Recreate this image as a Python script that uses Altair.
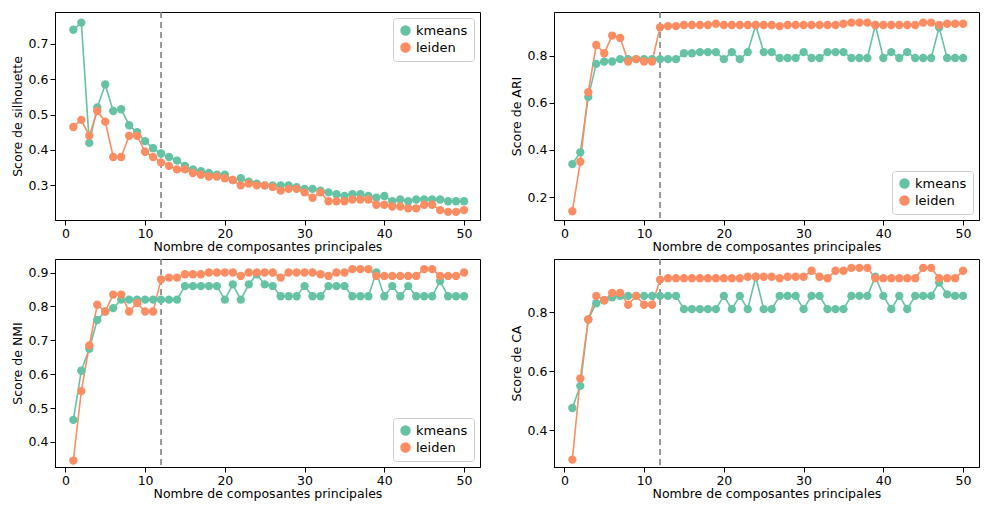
import altair as alt
import pandas as pd

n_pcs = list(range(1, 51))

sil_kmeans = [0.74, 0.76, 0.42, 0.52, 0.585, 0.51, 0.515, 0.47, 0.45, 0.425,
              0.405, 0.39, 0.38, 0.37, 0.355, 0.345, 0.34, 0.335, 0.33, 0.33,
              0.315, 0.32, 0.31, 0.305, 0.30, 0.30, 0.30, 0.30, 0.295, 0.29,
              0.29, 0.285, 0.28, 0.275, 0.27, 0.275, 0.275, 0.27, 0.265, 0.27,
              0.255, 0.26, 0.255, 0.26, 0.26, 0.26, 0.26, 0.255, 0.255, 0.255]
sil_leiden = [0.465, 0.485, 0.44, 0.51, 0.48, 0.38, 0.38, 0.44, 0.44, 0.395,
              0.38, 0.365, 0.355, 0.345, 0.345, 0.335, 0.33, 0.325, 0.325, 0.32,
              0.315, 0.30, 0.305, 0.30, 0.30, 0.295, 0.285, 0.29, 0.29, 0.28,
              0.265, 0.28, 0.255, 0.255, 0.255, 0.26, 0.26, 0.26, 0.245, 0.245,
              0.24, 0.24, 0.235, 0.235, 0.245, 0.245, 0.23, 0.225, 0.225, 0.23]

ari_kmeans = [0.34, 0.39, 0.625, 0.765, 0.775, 0.775, 0.785, 0.785, 0.785, 0.785,
              0.785, 0.785, 0.785, 0.785, 0.81, 0.81, 0.815, 0.815, 0.815, 0.785,
              0.815, 0.785, 0.815, 0.93, 0.815, 0.815, 0.79, 0.79, 0.79, 0.815,
              0.79, 0.79, 0.815, 0.815, 0.815, 0.79, 0.79, 0.79, 0.93, 0.79,
              0.815, 0.79, 0.815, 0.79, 0.79, 0.79, 0.92, 0.79, 0.79, 0.79]
ari_leiden = [0.14, 0.35, 0.645, 0.845, 0.81, 0.885, 0.875, 0.775, 0.785, 0.775,
              0.775, 0.92, 0.925, 0.925, 0.93, 0.93, 0.93, 0.93, 0.935, 0.93,
              0.93, 0.93, 0.93, 0.93, 0.93, 0.93, 0.925, 0.93, 0.93, 0.93,
              0.93, 0.93, 0.93, 0.93, 0.935, 0.94, 0.94, 0.94, 0.93, 0.93,
              0.93, 0.93, 0.93, 0.93, 0.94, 0.94, 0.93, 0.935, 0.935, 0.935]

nmi_kmeans = [0.465, 0.61, 0.675, 0.76, 0.785, 0.795, 0.82, 0.82, 0.82, 0.82,
              0.82, 0.82, 0.82, 0.82, 0.86, 0.86, 0.86, 0.86, 0.86, 0.82,
              0.865, 0.82, 0.865, 0.895, 0.865, 0.86, 0.83, 0.83, 0.83, 0.86,
              0.83, 0.83, 0.86, 0.86, 0.86, 0.83, 0.83, 0.83, 0.9, 0.83,
              0.86, 0.83, 0.86, 0.83, 0.83, 0.83, 0.875, 0.83, 0.83, 0.83]
nmi_leiden = [0.345, 0.55, 0.685, 0.805, 0.785, 0.835, 0.835, 0.785, 0.81, 0.785,
              0.785, 0.88, 0.885, 0.885, 0.895, 0.895, 0.895, 0.9, 0.9, 0.9,
              0.9, 0.89, 0.9, 0.9, 0.9, 0.9, 0.885, 0.9, 0.9, 0.9,
              0.9, 0.895, 0.89, 0.9, 0.9, 0.91, 0.91, 0.91, 0.89, 0.89,
              0.89, 0.89, 0.89, 0.89, 0.91, 0.91, 0.89, 0.89, 0.89, 0.9]

ca_kmeans = [0.475, 0.55, 0.775, 0.83, 0.84, 0.85, 0.855, 0.855, 0.855, 0.855,
             0.855, 0.855, 0.855, 0.855, 0.81, 0.81, 0.81, 0.81, 0.81, 0.855,
             0.81, 0.855, 0.81, 0.92, 0.81, 0.81, 0.855, 0.855, 0.855, 0.81,
             0.855, 0.855, 0.81, 0.81, 0.81, 0.855, 0.855, 0.855, 0.92, 0.855,
             0.81, 0.855, 0.81, 0.855, 0.855, 0.855, 0.9, 0.86, 0.855, 0.855]
ca_leiden = [0.30, 0.575, 0.775, 0.855, 0.84, 0.865, 0.865, 0.825, 0.855, 0.825,
             0.825, 0.91, 0.915, 0.915, 0.915, 0.915, 0.915, 0.915, 0.915, 0.915,
             0.915, 0.915, 0.92, 0.92, 0.92, 0.92, 0.915, 0.92, 0.92, 0.92,
             0.94, 0.92, 0.915, 0.94, 0.94, 0.95, 0.95, 0.95, 0.915, 0.915,
             0.915, 0.915, 0.915, 0.915, 0.95, 0.95, 0.915, 0.915, 0.915, 0.94]

chosen_pcs = 12
colors = ["#66c2a5", "#fc8d62"]
font = "DejaVu Sans"


def panel(km, le, ytitle, domain, ticks, legend_pos=None):
    df = pd.DataFrame({
        "pcs": n_pcs * 2,
        "score": km + le,
        "method": ["kmeans"] * 50 + ["leiden"] * 50,
    })
    if legend_pos:
        legend = alt.Legend(title=None, orient=legend_pos, strokeColor="#cccccc",
                            fillColor="white", padding=6, labelFontSize=13,
                            symbolType="circle", symbolSize=80, cornerRadius=3,
                            offset=6)
    else:
        legend = None
    color = alt.Color("method:N", scale=alt.Scale(domain=["kmeans", "leiden"], range=colors),
                      legend=legend)
    x = alt.X("pcs:Q", title="Nombre de composantes principales",
              scale=alt.Scale(domain=[-1.3, 52], nice=False, zero=False),
              axis=alt.Axis(values=[0, 10, 20, 30, 40, 50], grid=False, titlePadding=1))
    y = alt.Y("score:Q", title=ytitle,
              scale=alt.Scale(domain=domain, nice=False, zero=False),
              axis=alt.Axis(values=ticks, grid=False, format=".1f"))
    base = alt.Chart(df).encode(x=x, y=y, color=color)
    lines = base.mark_line(strokeWidth=1.6)
    points = base.mark_circle(size=70, opacity=1)
    vline = alt.Chart(pd.DataFrame({"pcs": [chosen_pcs]})).mark_rule(
        color="gray", strokeDash=[6, 4], strokeWidth=1.6
    ).encode(x=alt.X("pcs:Q"))
    return (vline + lines + points).properties(width=425, height=208)


p1 = panel(sil_kmeans, sil_leiden, "Score de silhouette", [0.202, 0.79],
           [0.3, 0.4, 0.5, 0.6, 0.7], "top-right")
p2 = panel(ari_kmeans, ari_leiden, "Score de ARI", [0.103, 0.985],
           [0.2, 0.4, 0.6, 0.8], "bottom-right")
p3 = panel(nmi_kmeans, nmi_leiden, "Score de NMI", [0.326, 0.94],
           [0.4, 0.5, 0.6, 0.7, 0.8, 0.9], "bottom-right")
p4 = panel(ca_kmeans, ca_leiden, "Score de CA", [0.275, 0.98],
           [0.4, 0.6, 0.8])

chart = alt.vconcat(
    alt.hconcat(p1, p2, spacing=28).resolve_scale(y="independent", color="independent"),
    alt.hconcat(p3, p4, spacing=28).resolve_scale(y="independent", color="independent"),
    spacing=3,
).resolve_scale(y="independent", color="independent").configure_view(
    stroke="black", strokeWidth=1
).configure_axis(
    labelFont=font, titleFont=font, labelFontSize=12.5, titleFontSize=12.5,
    titleFontWeight="normal", domainColor="black", tickColor="black",
    labelColor="black", titleColor="black"
).configure_legend(labelFont=font).properties(padding={"left": 2, "top": 2, "right": 2, "bottom": 2})

chart.save("out.html", embed_options={"renderer": "svg", "actions": False})
